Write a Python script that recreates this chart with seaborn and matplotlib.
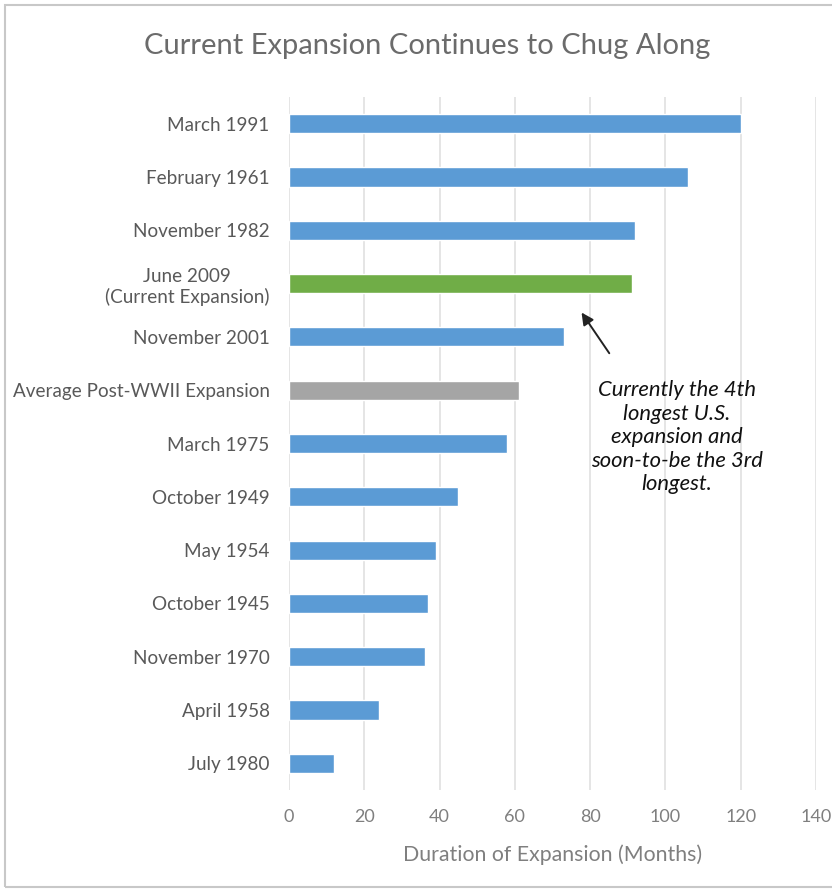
import matplotlib
matplotlib.use("Agg")
import matplotlib.pyplot as plt
import seaborn as sns
from matplotlib.patches import Rectangle

labels = ["March 1991", "February 1961", "November 1982", "June 2009\n(Current Expansion)",
          "November 2001", "Average Post-WWII Expansion", "March 1975", "October 1949",
          "May 1954", "October 1945", "November 1970", "April 1958", "July 1980"]
months = [120, 106, 92, 91, 73, 61, 58, 45, 39, 37, 36, 24, 12]
blue, green, gray = "#5B9BD5", "#70AD47", "#A5A5A5"
colors = [blue, blue, blue, green, blue, gray, blue, blue, blue, blue, blue, blue, blue]
xticks = [0, 20, 40, 60, 80, 100, 120, 140]

sns.set_style("white")
plt.rcParams['font.family'] = ['Lato', 'DejaVu Sans']

fig = plt.figure(figsize=(8.32, 8.89), dpi=100)
ax = fig.add_axes([289/832, 1-790/889, (816-289)/832, (790-97)/889])

sns.barplot(x=months, y=labels, hue=labels, palette=dict(zip(labels, colors)),
            orient="h", width=0.36, legend=False, ax=ax, saturation=1)

ax.set_xlim(0, 140)
ax.set_ylim(12.5, -0.5)
ax.set_xticks(xticks)
ax.set_xticklabels([str(t) for t in xticks], color="#7f7f7f", fontsize=13)
ax.tick_params(axis="y", colors="#595959", labelsize=13.6, length=0, pad=14)
ax.tick_params(axis="x", length=0, pad=14)
for lab in ax.get_yticklabels():
    lab.set_horizontalalignment("right")
    lab.set_multialignment("center")
ax.grid(axis="x", color="#e3e3e3", linewidth=1.3)
ax.set_axisbelow(True)
for s in ax.spines.values():
    s.set_visible(False)
ax.set_ylabel("")
ax.set_xlabel("Duration of Expansion (Months)", color="#7f7f7f", fontsize=15.3, labelpad=14)

fig.text(0.513, 1-46/889, "Current Expansion Continues to Chug Along", ha="center", va="center",
         fontsize=21, color="#6b6b6b")

ax.annotate("", xy=(77.3, 3.5), xytext=(85.5, 4.35),
            arrowprops=dict(arrowstyle="-|>", color="#222222", lw=1.4, mutation_scale=18))
ax.text(103, 5.88, "Currently the 4th\nlongest U.S.\nexpansion and\nsoon-to-be the 3rd\nlongest.",
        ha="center", va="center", fontsize=15.8, style="italic", color="#111111", linespacing=1.22)

fig.patches.append(Rectangle((5/832, 0.002), 1.2, 1-5/889-0.002, transform=fig.transFigure,
                             fill=False, edgecolor="#c8c8c8", linewidth=1.5))

fig.savefig("out.png", dpi=100)
